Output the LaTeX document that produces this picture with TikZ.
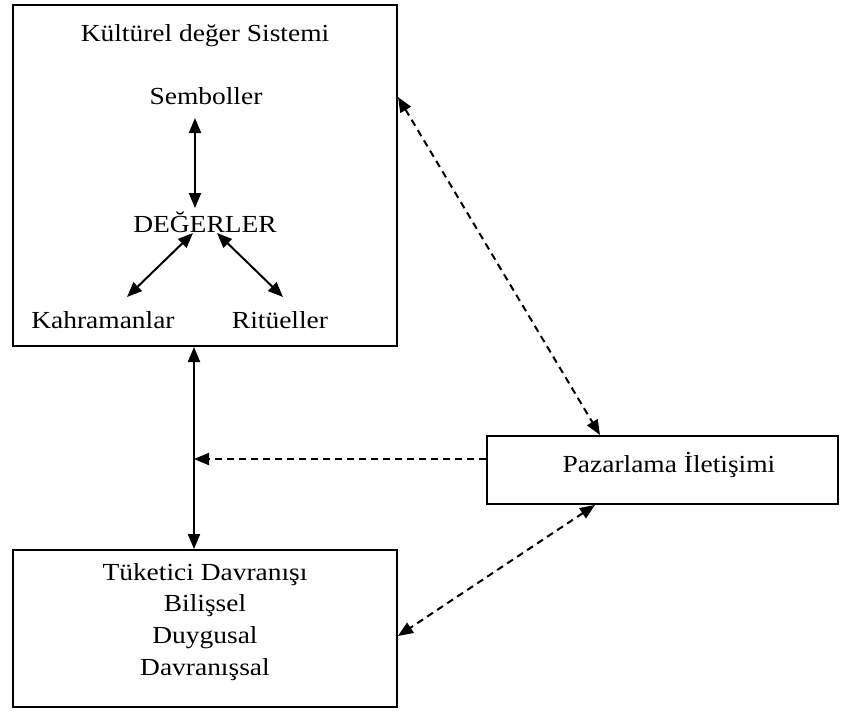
\documentclass[tikz,border=0pt]{standalone}
\usepackage{fontspec}
\setmainfont{Liberation Serif}[FakeStretch=1.12]
\usetikzlibrary{arrows.meta}
\begin{document}
\begin{tikzpicture}[x=1pt,y=-1pt,
  box/.style={draw,line width=2pt,inner sep=0pt},
  lbl/.style={font=\fontsize{24.5}{31.7}\selectfont,inner sep=0pt,anchor=base},
  tip/.style={line width=2pt,{Triangle[length=15pt,width=12pt]}-{Triangle[length=15pt,width=12pt]}},
  dtip/.style={tip,dash pattern=on 7pt off 5pt}]
\useasboundingbox (0,0) rectangle (841,713);
\node[box,minimum width=384pt,minimum height=341pt] (kul) at (205,175.5) {};
\node[box,minimum width=351pt,minimum height=68pt] (paz) at (662.5,470) {};
\node[box,minimum width=384pt,minimum height=157pt] (tuk) at (205,628.5) {};
\node[lbl] (title) at (205,41) {Kültürel değer Sistemi};
\node[lbl] (sem) at (206,104) {Semboller};
\node[lbl] (deg) at (205,232) {DEĞERLER};
\node[lbl] (kah) at (103,328) {Kahramanlar};
\node[lbl] (rit) at (280,328) {Ritüeller};
\node[lbl] (paztxt) at (669,472.7) {Pazarlama İletişimi};
\node[font=\fontsize{24.5}{31.7}\selectfont,inner sep=0pt,align=center,anchor=north] (tuktxt) at (205,563) {Tüketici Davranışı\\Bilişsel\\Duygusal\\Davranışsal};
% inner arrows
\coordinate (s1) at (195,118);
\coordinate (s2) at (195,208);
\coordinate (k1) at (193,233);
\coordinate (k2) at (127,297);
\coordinate (r1) at (217,233);
\coordinate (r2) at (283,297);
\draw[tip] (s1) -- (s2);
\draw[tip] (k1) -- (k2);
\draw[tip] (r1) -- (r2);
% outer connectors
\coordinate (v) at (194,0);
\coordinate (h) at (194,459);
\coordinate (a) at (0,97);
\coordinate (b) at (600,0);
\coordinate (c) at (595,0);
\coordinate (d) at (0,636);
\draw[tip] (kul.south -| v) -- (tuk.north -| v);
\draw[line width=2pt,dash pattern=on 7pt off 5pt,-{Triangle[length=15pt,width=12pt]}] (paz.west |- h) -- (h);
\draw[dtip] (kul.east |- a) -- (paz.north -| b);
\draw[dtip] (paz.south -| c) -- (tuk.east |- d);
\end{tikzpicture}
\end{document}
